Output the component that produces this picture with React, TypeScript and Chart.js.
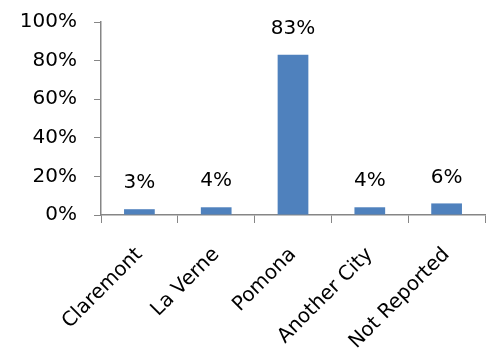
import React, { useEffect, useRef } from "react";
import { Chart, registerables } from "chart.js";

Chart.register(...registerables);

const categories = ["Claremont", "La Verne", "Pomona", "Another City", "Not Reported"];
const values = [0.03, 0.04, 0.83, 0.04, 0.06];
const valueLabels = ["3%", "4%", "83%", "4%", "6%"];

const FONT = "'DejaVu Sans', sans-serif";

const dataLabelPlugin = {
  id: "dataLabels",
  afterDatasetsDraw(chart: any) {
    const ctx = chart.ctx;
    const meta = chart.getDatasetMeta(0);
    ctx.save();
    ctx.font = `20px ${FONT}`;
    ctx.fillStyle = "#000000";
    ctx.textAlign = "center";
    ctx.textBaseline = "middle";
    meta.data.forEach((bar: any, i: number) => {
      ctx.fillText(valueLabels[i], bar.x, bar.y - 26);
    });
    ctx.restore();
  },
};

export default function App() {
  const ref = useRef<HTMLCanvasElement | null>(null);
  useEffect(() => {
    if (!ref.current) return;
    const chart = new Chart(ref.current, {
      type: "bar",
      data: {
        labels: categories,
        datasets: [
          {
            data: values,
            backgroundColor: "#4F81BD",
            borderWidth: 0,
            barPercentage: 0.4,
            categoryPercentage: 1,
          },
        ],
      },
      options: {
        responsive: false,
        animation: false,
        devicePixelRatio: 1,
        layout: { padding: { top: 22, right: 3, left: 0, bottom: 0 } },
        plugins: { legend: { display: false }, tooltip: { enabled: false } },
        scales: {
          x: {
            grid: {
              display: true,
              drawOnChartArea: false,
              drawTicks: true,
              tickLength: 8,
              color: "#868686",
              offset: true,
            },
            border: { display: true, color: "#868686", width: 1.5 },
            ticks: {
              minRotation: 45,
              maxRotation: 45,
              autoSkip: false,
              padding: 20,
              color: "#000000",
              font: { family: FONT, size: 20 },
            },
            afterFit(scale: any) {
              scale.height = 141;
              scale.paddingLeft = 0;
              scale.paddingRight = 0;
              scale.paddingTop = 0;
              scale.paddingBottom = 0;
            },
          },
          y: {
            min: 0,
            max: 1,
            grid: {
              display: true,
              drawOnChartArea: false,
              drawTicks: true,
              tickLength: 7,
              color: "#868686",
            },
            border: { display: true, color: "#868686", width: 1.5 },
            ticks: {
              stepSize: 0.2,
              padding: 17,
              color: "#000000",
              font: { family: FONT, size: 20 },
              callback: (v: any) => `${Math.round(Number(v) * 100)}%`,
            },
            afterFit(scale: any) {
              scale.width = 101;
              scale.paddingTop = 0;
              scale.paddingBottom = 0;
              scale.paddingLeft = 0;
              scale.paddingRight = 0;
            },
          },
        },
      },
      plugins: [dataLabelPlugin],
    });
    return () => chart.destroy();
  }, []);
  return (
    <div style={{ position: "fixed", left: 0, top: 0, width: 488, height: 356, background: "#fff" }}>
      <canvas ref={ref} width={488} height={356} style={{ width: 488, height: 356 }} />
    </div>
  );
}
